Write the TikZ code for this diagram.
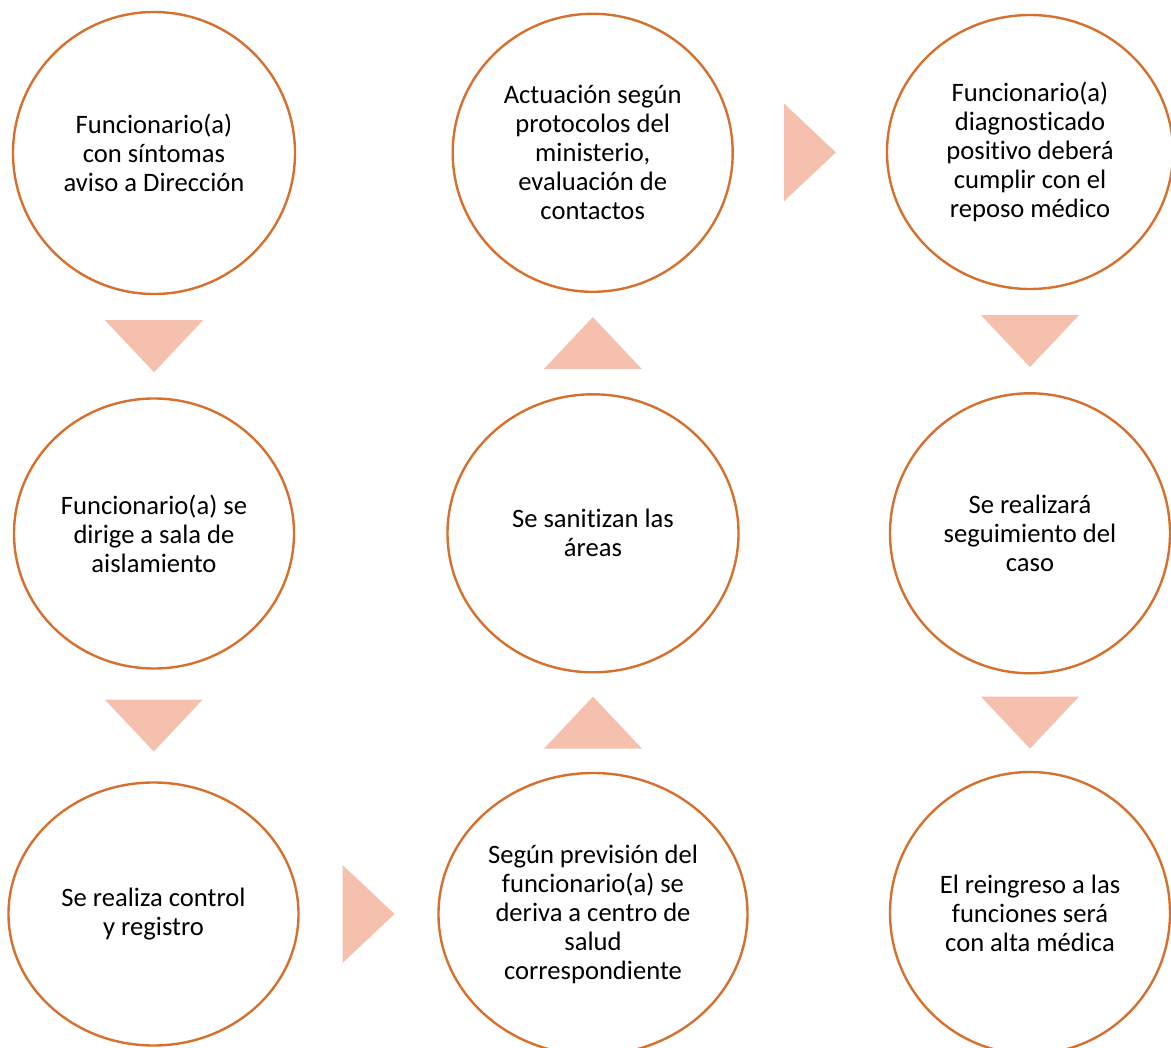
\documentclass[tikz,border=0pt]{standalone}
\usepackage{fontspec}
\setmainfont{Carlito}[Ligatures=NoCommon]
\usetikzlibrary{shapes.geometric}
\usetikzlibrary{calc}
\definecolor{stageline}{RGB}{214,112,46}
\definecolor{arrowpink}{RGB}{245,192,174}
\tikzstyle{stage}=[ellipse,draw=stageline,line width=2.4pt,inner sep=0pt,align=center,font=\fontsize{26.6}{29}\selectfont]
\tikzstyle{bigarrow}=[fill=arrowpink]

\begin{document}
\begin{tikzpicture}[x=1pt,y=1pt]
    \useasboundingbox (0,0) rectangle (1171,-1048);
    \clip (0,0) rectangle (1171,-1048);

    % the nine steps, column by column
    \foreach \pos/\w/\h/\name/\txt in {
        {(154,-153)/282/282/aviso/{Funcionario(a)\\con síntomas\\aviso a Dirección}},
        {(154,-533.5)/280/270/sala/{Funcionario(a) se\\dirige a sala de\\aislamiento}},
        {(153.5,-914)/290/263/control/{Se realiza control\\y registro}},
        {(593,-914)/309/282/derivacion/{Según previsión del\\funcionario(a) se\\deriva a centro de\\salud\\correspondiente}},
        {(593,-533.3)/291/278/sanitiza/{Se sanitizan las\\áreas}},
        {(592.7,-152.8)/280/278/protocolo/{Actuación según\\protocolos del\\ministerio,\\evaluación de\\contactos}},
        {(1030,-152)/286/274/positivo/{Funcionario(a)\\diagnosticado\\positivo deberá\\cumplir con el\\reposo médico}},
        {(1030,-533.3)/280/280/seguimiento/{Se realizará\\seguimiento del\\caso}},
        {(1030,-913)/280/282/alta/{El reingreso a las\\funciones será\\con alta médica}}}
        \node[stage,minimum width=\w pt,minimum height=\h pt] (\name) at \pos {\txt};

    % triangles between the steps
    \foreach \from/\fa/\to/\ta/\ang in {aviso/south/sala/north/-90, sala/south/control/north/-90,
            control/east/derivacion/west/0, derivacion/north/sanitiza/south/90,
            sanitiza/north/protocolo/south/90, protocolo/east/positivo/west/0,
            positivo/south/seguimiento/north/-90, seguimiento/south/alta/north/-90}
        \fill[bigarrow, shift={($(\from.\fa)!0.5!(\to.\ta)$)}, rotate=\ang] (-26,49) -- (26,0) -- (-26,-49) -- cycle;

\end{tikzpicture}
\end{document}
